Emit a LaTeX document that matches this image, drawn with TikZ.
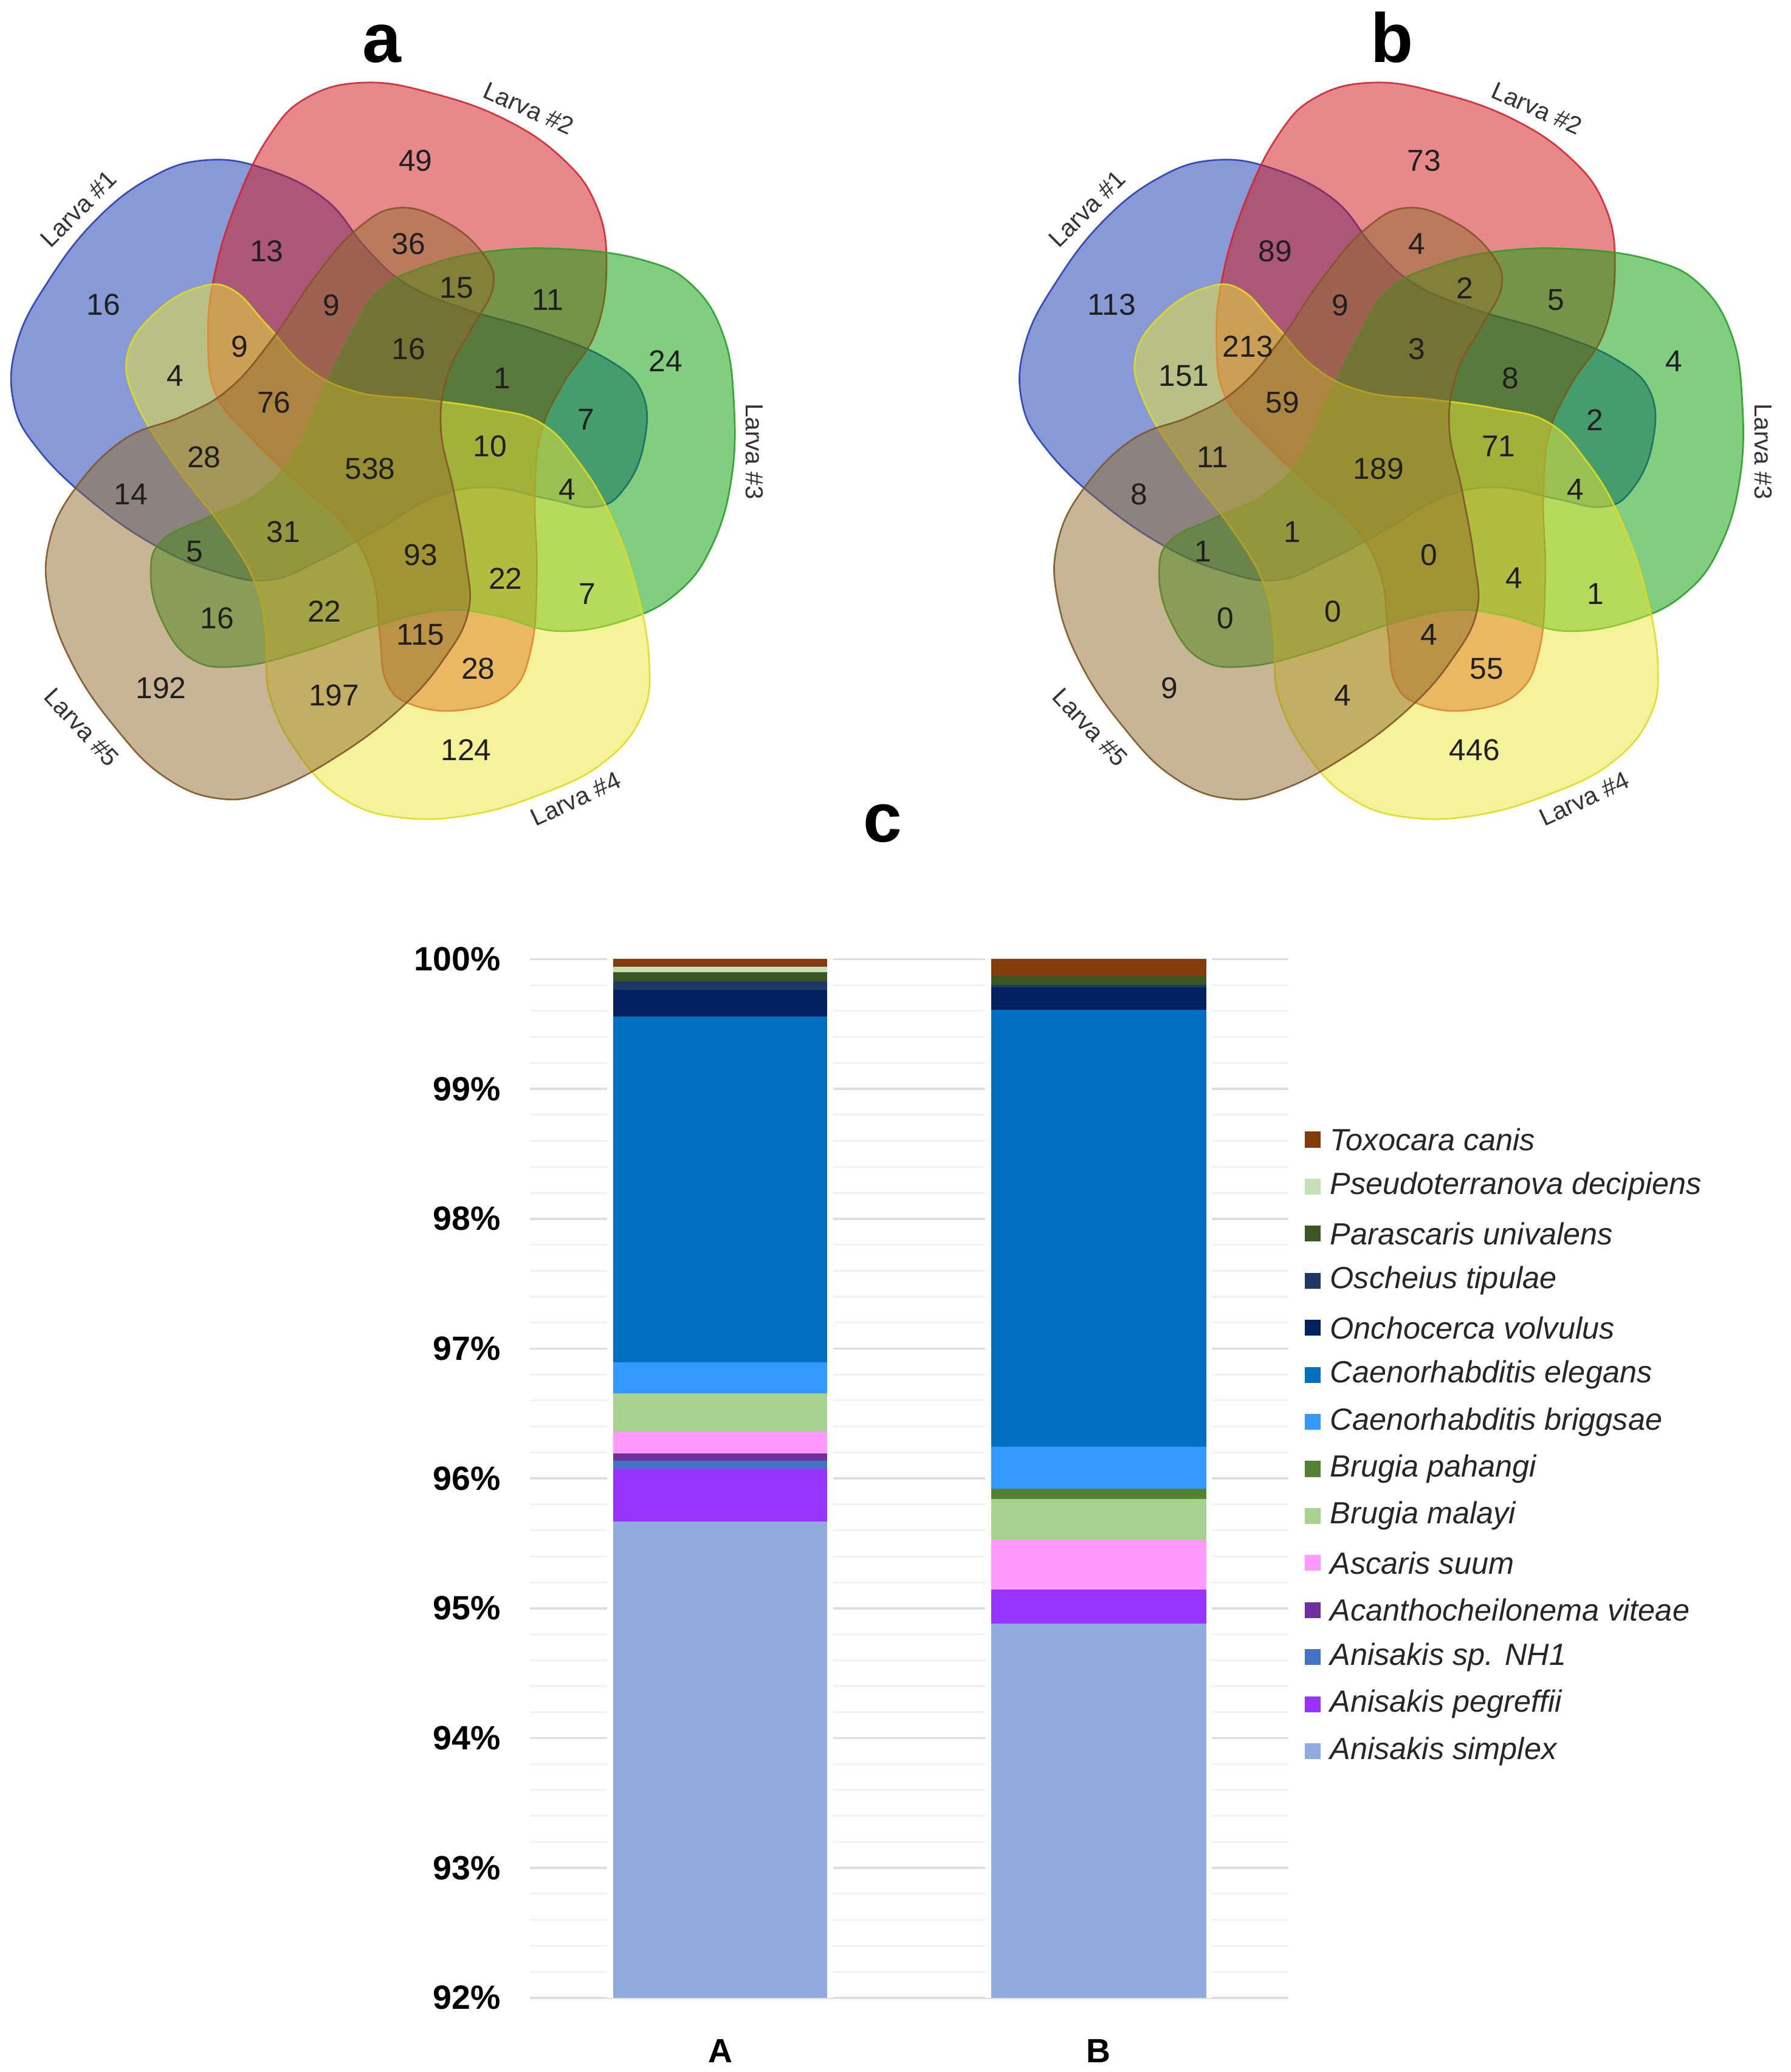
\documentclass[tikz,border=0pt]{standalone}
\usepackage{fontspec}
\setmainfont{Liberation Sans}
\definecolor{vbF}{RGB}{17,55,175}
\definecolor{vrF}{RGB}{209,21,25}
\definecolor{vgF}{RGB}{5,159,5}
\definecolor{vyF}{RGB}{235,231,55}
\definecolor{vnF}{RGB}{145,109,45}
\definecolor{vbD}{RGB}{40,60,190}
\definecolor{vrD}{RGB}{215,35,45}
\definecolor{vgD}{RGB}{40,160,40}
\definecolor{vyD}{RGB}{225,220,30}
\definecolor{vnD}{RGB}{130,85,40}
\definecolor{cTox}{HTML}{843C0C}
\definecolor{cPse}{HTML}{C5E0B4}
\definecolor{cPar}{HTML}{385723}
\definecolor{cOsc}{HTML}{203864}
\definecolor{cOnc}{HTML}{002060}
\definecolor{cEle}{HTML}{0070C0}
\definecolor{cBri}{HTML}{3399FF}
\definecolor{cPah}{HTML}{548235}
\definecolor{cMal}{HTML}{A9D18E}
\definecolor{cAsc}{HTML}{FF99FF}
\definecolor{cAca}{HTML}{7030A0}
\definecolor{cNH}{HTML}{4472C4}
\definecolor{cPeg}{HTML}{9933FF}
\definecolor{cSim}{HTML}{8FAADC}
\begin{document}
\begin{tikzpicture}[x=0.02cm,y=-0.02cm,
  num/.style={font=\fontsize{13}{15}\selectfont, text=black!88, inner sep=0pt},
  larva/.style={font=\fontsize{10.6}{12}\selectfont, text=black!80, inner sep=0pt},
  panel/.style={font=\fontsize{30}{34}\selectfont\bfseries, anchor=base, inner sep=0pt},
  petal/.style={line width=0.7pt, fill opacity=0.5, draw opacity=0.9},
  tick/.style={font=\fontsize{14.5}{17}\selectfont\bfseries, anchor=east, inner sep=0pt},
  cat/.style={font=\fontsize{14.5}{17}\selectfont\bfseries, inner sep=0pt},
  leg/.style={font=\fontsize{13.2}{15}\selectfont\itshape, anchor=west, inner sep=0pt, text=black!85},
  major/.style={draw=black!13, line width=0.9pt},
  minor/.style={draw=black!5, line width=0.8pt}]
\useasboundingbox (0,0) rectangle (1355,1568);
\fill[white] (0,0) rectangle (1355,1568);

% ---------- Venn diagrams ----------
\foreach \cx in {281.8,1044.8}{
 \begin{scope}[shift={(\cx,345.3)}]
 \foreach \ang/\fc/\dc/\sx/\sy/\ts in {72/vbF/vbD/0/-5/1, 0/vrF/vrD/0/-2/1, -72/vgF/vgD/0/0/0.98,
     -144/vyF/vyD/5/8/1, -216/vnF/vnD/3/12/0.95}{
   \filldraw[petal, fill=\fc, draw=\dc, shift={(\sx,\sy)}, rotate=\ang] plot[smooth cycle, tension=0.7] coordinates {
    (-5.5,-280.8) (45.5,-272.7) (100.0,-253.1) (143.6,-223.5) (169.1,-188.4) (177.1,-144.1)
    (169.1,-92.4) (143.6,-51.7) (127.3,-14.8) (122.9,33.3) (124.4,92.4) (120.0,{147.8*\ts})
    (103.6,{181.1*\ts}) (67.3,{194.0*\ts}) (30.9,{190.3*\ts}) (10.9,{173.7*\ts}) (5.5,{136.7*\ts}) (0,92.4)
    (-20.0,55.4) (-56.4,22.2) (-92.7,-12.9) (-118.2,-44.3) (-124.4,-85.0) (-120.0,-133.0)
    (-103.6,-188.4) (-78.2,-240.2) (-49.1,-269.7)};
 }
 \end{scope}
}

\foreach \x/\y/\ta/\tb [count=\i] in {
 78.2/230.7/16/113, 201.8/190.1/13/89, 314.5/121.7/49/73, 309.1/184.6/36/4,
 345.4/217.8/15/2, 414.5/227.1/11/5, 250.9/230.8/9/9, 503.6/273.2/24/4,
 181.1/262.2/9/213, 309.1/264/16/3, 132.7/284.3/4/151, 380/286.2/1/8,
 207.3/304.7/76/59, 443.6/317.6/7/2, 370.9/337.9/10/71, 154.5/346/28/11,
 280/354.5/538/189, 429/370.4/4/4, 98.9/374.1/14/8, 214.5/402.6/31/1,
 147.3/417.3/5/1, 318.2/419.9/93/0, 382.5/437.7/22/4, 444.3/449.5/7/1,
 164.3/468/16/0, 245.4/462.8/22/0, 318.2/480.2/115/4, 361.8/506/28/55,
 121.8/520.8/192/9, 252.7/526.4/197/4, 352.7/567.7/124/446}{
 \node[num] (na\i) at (\x,\y) {\ta};
 \node[num] (nb\i) at (\x+763,\y) {\tb};
}

\foreach \dx/\p in {0/a,763/b}{
 \node[larva, rotate=45] (L\p1) at (59.5+\dx,158) {Larva \#1};
 \node[larva, rotate=-24] (L\p2) at (400+\dx,82) {Larva \#2};
 \node[larva, rotate=-90] (L\p3) at (571+\dx,341.6) {Larva \#3};
 \node[larva, rotate=25] (L\p4) at (435.6+\dx,604.7) {Larva \#4};
 \node[larva, rotate=-47] (L\p5) at (61.8+\dx,550.4) {Larva \#5};
}

\node[panel] (pa) at (289,47) {a};
\node[panel] (pb) at (1053,47) {b};
\node[panel] (pc) at (668,637) {c};

% ---------- bar chart ----------
\foreach \k in {0,...,40}{
 \pgfmathsetmacro\yy{725.8+\k*19.65}
 \draw[minor] (401,\yy) -- (975,\yy);
}
\foreach \k in {0,...,8}{
 \pgfmathsetmacro\yy{725.8+\k*98.25}
 \draw[major] (401,\yy) -- (975,\yy);
}
\fill[white] (459.5,720) rectangle (630.5,1511.8);
\fill[white] (745.5,720) rectangle (917,1511.8);

\foreach \c/\t/\b in {cTox/725.8/731.4, cPse/731.4/735.9, cPar/735.9/742.6, cOsc/742.6/749.1,
  cOnc/749.1/769.5, cEle/769.5/1030.9, cBri/1030.9/1054.4, cMal/1054.4/1083.3,
  cAsc/1083.3/1099.7, cAca/1099.7/1105.6, cNH/1105.6/1111.5, cPeg/1111.5/1151.4,
  cSim/1151.4/1511.8}{
 \fill[\c] (464,\t) rectangle (626,\b);
}
\foreach \c/\t/\b in {cTox/725.8/738.6, cPar/738.6/745.2, cOsc/745.2/747.2,
  cOnc/747.2/764, cEle/764/1095, cBri/1095/1126.7, cPah/1126.7/1134.2,
  cMal/1134.2/1165, cAsc/1165/1203, cPeg/1203/1228.8, cSim/1228.8/1511.8}{
 \fill[\c] (750,\t) rectangle (912.6,\b);
}

\foreach \p [count=\i from 0] in {100,99,98,97,96,95,94,93,92}{
 \node[tick] (t\p) at (379,725.8+\i*98.25) {\p\%};
}
\node[cat] (catA) at (545,1552) {A};
\node[cat] (catB) at (831,1552) {B};

\foreach \c/\t [count=\i from 0] in {cTox/Toxocara canis, cPse/Pseudoterranova decipiens,
  cPar/Parascaris univalens, cOsc/Oscheius tipulae, cOnc/Onchocerca volvulus,
  cEle/Caenorhabditis elegans, cBri/Caenorhabditis briggsae, cPah/Brugia pahangi,
  cMal/Brugia malayi, cAsc/Ascaris suum, cAca/Acanthocheilonema viteae,
  cNH/Anisakis sp. NH1, cPeg/Anisakis pegreffii, cSim/Anisakis simplex}{
 \fill[\c] (987,856.4+\i*35.6) rectangle ++(12,12);
 \node[leg] (lg\i) at (1006,862.4+\i*35.6) {\t};
}
\end{tikzpicture}
\end{document}
